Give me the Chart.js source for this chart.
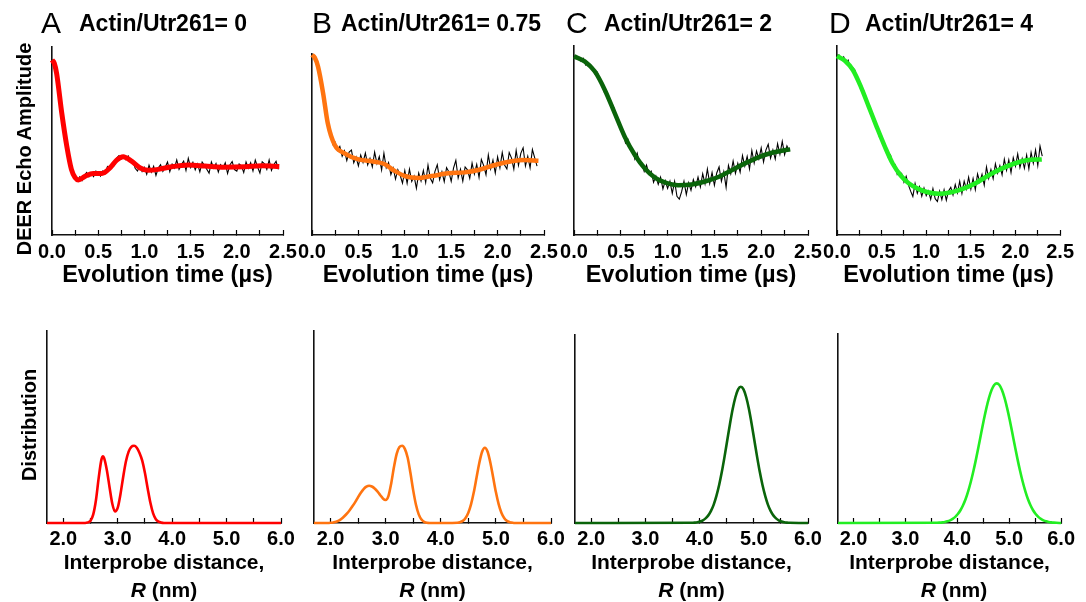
<!DOCTYPE html>
<html>
<head>
<meta charset="utf-8">
<script src="https://cdn.jsdelivr.net/npm/chart.js@4.4.1/dist/chart.umd.min.js"></script>
<style>
html,body{margin:0;padding:0;background:#fff;}
#wrap{position:relative;width:1086px;height:602px;overflow:hidden;background:#fff;font-family:"Liberation Sans",Arial,sans-serif;}
canvas{position:absolute;left:0;top:0;}
.lbl{position:absolute;white-space:nowrap;color:#000;}
.letter{font-size:30px;font-weight:400;line-height:30px;}
.ttl{font-size:23px;font-weight:700;line-height:23px;}
.vlab{font-size:20px;font-weight:700;line-height:24px;width:300px;height:24px;text-align:center;transform:rotate(-90deg);}
.rlab{font-size:21px;font-weight:700;line-height:22px;width:140px;text-align:center;}
</style>
</head>
<body>
<div id="wrap">
<canvas id="cA" width="1086" height="602"></canvas>
<canvas id="cB" width="1086" height="602"></canvas>
<canvas id="cC" width="1086" height="602"></canvas>
<canvas id="cD" width="1086" height="602"></canvas>
<canvas id="dA" width="1086" height="602"></canvas>
<canvas id="dB" width="1086" height="602"></canvas>
<canvas id="dC" width="1086" height="602"></canvas>
<canvas id="dD" width="1086" height="602"></canvas>

<div class="lbl letter" style="left:41px;top:8px;">A</div>
<div class="lbl ttl" style="left:79px;top:12px;">Actin/Utr261= 0</div>
<div class="lbl letter" style="left:312px;top:8px;">B</div>
<div class="lbl ttl" style="left:341px;top:12px;">Actin/Utr261= 0.75</div>
<div class="lbl letter" style="left:566px;top:8px;">C</div>
<div class="lbl ttl" style="left:604px;top:12px;">Actin/Utr261= 2</div>
<div class="lbl letter" style="left:829px;top:8px;">D</div>
<div class="lbl ttl" style="left:865px;top:12px;">Actin/Utr261= 4</div>

<div class="lbl vlab" style="left:-126.5px;top:137px;">DEER Echo Amplitude</div>
<div class="lbl vlab" style="left:-121px;top:413px;">Distribution</div>

<div class="lbl rlab" style="left:94px;top:579px;"><i>R</i> (nm)</div>
<div class="lbl rlab" style="left:362.5px;top:579px;"><i>R</i> (nm)</div>
<div class="lbl rlab" style="left:621.5px;top:579px;"><i>R</i> (nm)</div>
<div class="lbl rlab" style="left:884px;top:579px;"><i>R</i> (nm)</div>
</div>

<script>
// ---------------- DATA ----------------
// tick values / labels
const timeTicks = [0, 0.25, 0.5, 0.75, 1, 1.25, 1.5, 1.75, 2, 2.25, 2.5];
const timeTickLabels = ['0.0', '', '0.5', '', '1.0', '', '1.5', '', '2.0', '', '2.5'];
const distTicks = [2, 2.5, 3, 3.5, 4, 4.5, 5, 5.5, 6];
const distTickLabels = ['2.0', '', '3.0', '', '4.0', '', '5.0', '', '6.0'];

// sampling interval of the raw DEER traces (µs)
const traceStep = 0.025;

// raw DEER traces (black), one value per sample
const traceA = [0.934,0.908,0.864,0.757,0.672,0.586,0.508,0.428,0.374,0.327,0.310,0.289,0.309,0.289,0.317,0.332,0.310,0.329,0.311,0.340,
0.332,0.313,0.340,0.327,0.364,0.350,0.374,0.369,0.409,0.422,0.405,0.421,0.400,0.420,0.388,0.396,0.355,0.340,0.367,0.338,
0.360,0.323,0.371,0.334,0.365,0.317,0.356,0.374,0.338,0.361,0.388,0.337,0.377,0.356,0.399,0.349,0.375,0.393,0.343,0.408,
0.359,0.387,0.347,0.378,0.336,0.388,0.371,0.350,0.329,0.389,0.356,0.380,0.335,0.374,0.357,0.384,0.327,0.372,0.391,0.348,
0.340,0.378,0.368,0.332,0.388,0.355,0.385,0.341,0.398,0.362,0.330,0.390,0.379,0.349,0.399,0.343,0.373,0.392,0.349];
const traceB = [1.000,0.975,0.963,0.893,0.854,0.747,0.696,0.585,0.567,0.500,0.512,0.468,0.489,0.435,0.465,0.411,0.458,0.469,0.399,0.431,
0.382,0.441,0.401,0.453,0.387,0.423,0.376,0.458,0.394,0.433,0.359,0.452,0.371,0.400,0.334,0.370,0.309,0.361,0.330,0.286,
0.356,0.286,0.364,0.296,0.325,0.258,0.342,0.298,0.357,0.290,0.386,0.313,0.288,0.352,0.388,0.306,0.350,0.295,0.372,0.349,
0.297,0.370,0.412,0.315,0.363,0.298,0.376,0.360,0.313,0.397,0.337,0.390,0.318,0.417,0.383,0.333,0.442,0.365,0.414,0.342,
0.432,0.371,0.456,0.387,0.365,0.456,0.425,0.364,0.467,0.385,0.451,0.482,0.381,0.435,0.371,0.472,0.426,0.380];
const traceC = [0.947,0.935,0.943,0.919,0.934,0.899,0.911,0.883,0.888,0.852,0.861,0.814,0.809,0.754,0.752,0.730,0.675,0.675,0.619,0.613,
0.554,0.550,0.487,0.507,0.456,0.457,0.401,0.433,0.376,0.381,0.336,0.370,0.323,0.338,0.279,0.312,0.268,0.306,0.244,0.287,
0.247,0.285,0.220,0.283,0.205,0.190,0.229,0.284,0.214,0.276,0.236,0.293,0.255,0.306,0.254,0.324,0.270,0.349,0.272,0.330,
0.263,0.328,0.360,0.284,0.335,0.252,0.368,0.324,0.391,0.326,0.379,0.332,0.420,0.365,0.416,0.349,0.447,0.381,0.444,0.402,
0.460,0.386,0.449,0.480,0.406,0.450,0.402,0.483,0.427,0.495,0.425,0.471,0.443];
const traceD = [0.951,0.952,0.927,0.942,0.912,0.925,0.880,0.887,0.873,0.819,0.814,0.768,0.763,0.707,0.694,0.641,0.640,0.591,0.577,0.520,
0.523,0.468,0.460,0.410,0.424,0.367,0.373,0.320,0.335,0.325,0.280,0.311,0.265,0.232,0.204,0.272,0.221,0.255,0.205,0.249,
0.208,0.234,0.189,0.245,0.192,0.177,0.232,0.187,0.239,0.184,0.233,0.252,0.212,0.267,0.223,0.285,0.220,0.285,0.243,0.306,
0.243,0.299,0.240,0.323,0.280,0.321,0.264,0.360,0.299,0.346,0.298,0.376,0.327,0.367,0.318,0.401,0.342,0.397,0.330,0.409,
0.364,0.429,0.357,0.404,0.353,0.423,0.350,0.437,0.380,0.449,0.368,0.470,0.417];

// fitted DEER curves (coloured)
const fitA_t = [0, 0.025, 0.05, 0.105, 0.16, 0.21, 0.25, 0.285, 0.357, 0.447, 0.54, 0.63, 0.70, 0.77, 0.86, 0.95, 1.04, 1.15, 1.295, 1.475, 1.655, 1.84, 2.09, 2.27, 2.46];
const fitA_v = [0.931, 0.913, 0.86, 0.651, 0.473, 0.349, 0.305, 0.293, 0.312, 0.327, 0.327, 0.358, 0.398, 0.416, 0.393, 0.358, 0.344, 0.349, 0.363, 0.372, 0.367, 0.361, 0.363, 0.368, 0.365];
const fitB_t = [0, 0.03, 0.065, 0.12, 0.17, 0.245, 0.35, 0.50, 0.675, 0.78, 0.89, 1.0, 1.145, 1.29, 1.47, 1.645, 1.79, 1.97, 2.15, 2.29, 2.44];
const fitB_v = [0.995, 0.98, 0.93, 0.783, 0.617, 0.497, 0.451, 0.418, 0.405, 0.392, 0.354, 0.326, 0.315, 0.326, 0.341, 0.346, 0.359, 0.387, 0.407, 0.414, 0.41];
const fitC_t = [0, 0.114, 0.221, 0.328, 0.435, 0.542, 0.65, 0.757, 0.864, 0.971, 1.113, 1.256, 1.399, 1.542, 1.685, 1.827, 1.97, 2.113, 2.22, 2.31];
const fitC_v = [0.945, 0.919, 0.866, 0.769, 0.645, 0.52, 0.423, 0.352, 0.304, 0.278, 0.263, 0.267, 0.283, 0.307, 0.343, 0.379, 0.411, 0.435, 0.446, 0.453];
const fitD_t = [0, 0.089, 0.178, 0.268, 0.357, 0.446, 0.535, 0.625, 0.714, 0.803, 0.91, 1.017, 1.142, 1.267, 1.41, 1.553, 1.695, 1.838, 1.981, 2.124, 2.295];
const fitD_v = [0.947, 0.922, 0.873, 0.784, 0.678, 0.571, 0.469, 0.377, 0.315, 0.274, 0.244, 0.226, 0.218, 0.225, 0.244, 0.274, 0.315, 0.35, 0.377, 0.395, 0.40];

// distance distributions
const distA_R = [1.7, 2.4, 2.45, 2.5, 2.55, 2.6, 2.65, 2.7, 2.73, 2.75, 2.8, 2.85, 2.9, 2.95, 3.0, 3.05, 3.1, 3.15, 3.2, 3.25, 3.3, 3.35, 3.4, 3.45, 3.5, 3.55, 3.6, 3.65, 3.7, 3.75, 3.8, 3.85, 6.0];
const distA_P = [0, 0, 0.003, 0.012, 0.045, 0.12, 0.235, 0.33, 0.347, 0.338, 0.275, 0.185, 0.1, 0.06, 0.08, 0.15, 0.24, 0.32, 0.372, 0.397, 0.402, 0.392, 0.365, 0.325, 0.26, 0.18, 0.105, 0.05, 0.02, 0.007, 0.002, 0, 0];
const distB_R = [1.7, 1.95, 2.0, 2.05, 2.1, 2.15, 2.2, 2.25, 2.3, 2.35, 2.4, 2.45, 2.5, 2.55, 2.6, 2.65, 2.7, 2.75, 2.8, 2.85, 2.9, 2.95, 3.0, 3.05, 3.1, 3.15, 3.2, 3.25, 3.3, 3.35, 3.4, 3.45, 3.5, 3.55, 3.6, 3.65, 3.7, 3.75, 3.8,
  4.3, 4.35, 4.4, 4.45, 4.5, 4.55, 4.6, 4.65, 4.7, 4.75, 4.8, 4.85, 4.9, 4.95, 5.0, 5.05, 5.1, 5.15, 5.2, 5.25, 5.3, 5.35, 6.0];
const distB_P = [0, 0, 0.001, 0.003, 0.006, 0.012, 0.022, 0.035, 0.05, 0.068, 0.088, 0.11, 0.135, 0.158, 0.177, 0.189, 0.194, 0.19, 0.18, 0.165, 0.146, 0.128, 0.12, 0.14, 0.205, 0.29, 0.36, 0.396, 0.402, 0.385, 0.34, 0.26, 0.17, 0.095, 0.045, 0.018, 0.006, 0.001, 0,
  0.0015, 0.0044, 0.011, 0.026, 0.053, 0.098, 0.161, 0.238, 0.314, 0.371, 0.392, 0.371, 0.314, 0.238, 0.161, 0.098, 0.053, 0.026, 0.011, 0.0044, 0.0015, 0, 0];
const distC_R = [1.7, 3.86, 3.91, 3.96, 4.01, 4.06, 4.11, 4.16, 4.21, 4.26, 4.31, 4.36, 4.41, 4.46, 4.51, 4.56, 4.61, 4.66, 4.71, 4.76, 4.81, 4.86, 4.91, 4.96, 5.01, 5.06, 5.11, 5.16, 5.21, 5.26, 5.31, 5.36, 5.41, 5.46, 5.51, 5.56, 5.61, 5.66, 6.0];
const distC_P = [0, 0.001, 0.0022, 0.0043, 0.008, 0.0144, 0.0247, 0.0406, 0.0645, 0.098, 0.144, 0.202, 0.272, 0.353, 0.44, 0.527, 0.606, 0.669, 0.711, 0.725, 0.711, 0.669, 0.606, 0.527, 0.44, 0.353, 0.272, 0.202, 0.144, 0.098, 0.0645, 0.0406, 0.0247, 0.0144, 0.008, 0.0043, 0.0022, 0.001, 0];
const distD_R = [1.7, 3.61, 3.66, 3.71, 3.76, 3.81, 3.86, 3.91, 3.96, 4.01, 4.06, 4.11, 4.16, 4.21, 4.26, 4.31, 4.36, 4.41, 4.46, 4.51, 4.56, 4.61, 4.66, 4.71, 4.76, 4.81, 4.86, 4.91, 4.96, 5.01, 5.06, 5.11, 5.16, 5.21, 5.26, 5.31, 5.36, 5.41, 5.46, 5.51, 5.56, 5.61, 5.66, 5.71, 5.76, 5.81, 5.86, 5.91, 6.0];
const distD_P = [0, 0.0011, 0.002, 0.0034, 0.0056, 0.009, 0.0142, 0.0217, 0.0325, 0.0474, 0.0675, 0.094, 0.127, 0.169, 0.218, 0.275, 0.338, 0.406, 0.476, 0.545, 0.608, 0.662, 0.704, 0.730, 0.739, 0.730, 0.704, 0.662, 0.608, 0.545, 0.476, 0.406, 0.338, 0.275, 0.218, 0.169, 0.127, 0.094, 0.0675, 0.0474, 0.0325, 0.0217, 0.0142, 0.009, 0.0056, 0.0034, 0.002, 0.0011, 0];

// ---------------- STYLE / LAYOUT ----------------
const PAGE_W = 1086;
const colors = { A: '#ff0000', B: '#ff7410', C: '#0a640a', D: '#22ee22' };
Chart.defaults.font.family = '"Liberation Sans", Arial, sans-serif';
Chart.defaults.color = '#000';

const topRow = { padBottom: 314.3, xHeight: 52.7, tickPad: 12, title: 'Evolution time (\u00b5s)', titleSize: 23.5, min: 0, max: 2.5, ticks: timeTicks, labels: timeTickLabels };
const botRow = { padBottom: 28.5, xHeight: 50.5, tickPad: 11, title: 'Interprobe distance,', titleSize: 21, min: 1.7, max: 6.0, ticks: distTicks, labels: distTickLabels };

function zip(xs, ys) { return xs.map((x, i) => ({ x: x, y: ys[i] })); }
function traceData(vals) { return vals.map((v, i) => ({ x: Math.round(i * traceStep * 1000) / 1000, y: v })); }

function makePanel(id, area, row, datasets) {
  return new Chart(document.getElementById(id), {
    type: 'line',
    data: { datasets: datasets },
    options: {
      responsive: false,
      animation: false,
      devicePixelRatio: 1,
      events: [],
      layout: { autoPadding: false, padding: { left: area.left, right: PAGE_W - area.right, top: area.top, bottom: row.padBottom } },
      plugins: { legend: { display: false }, tooltip: { enabled: false }, title: { display: false } },
      elements: { point: { radius: 0 } },
      scales: {
        x: {
          type: 'linear', min: row.min, max: row.max,
          afterFit: s => { s.height = row.xHeight; },
          afterBuildTicks: s => { s.ticks = row.ticks.map(v => ({ value: v })); },
          ticks: {
            autoSkip: false, maxRotation: 0, minRotation: 0, padding: row.tickPad, color: '#000',
            font: { size: 20, weight: 'bold', lineHeight: 1 },
            callback: (v, i) => row.labels[i]
          },
          grid: { display: true, drawOnChartArea: false, drawTicks: true, tickLength: -5, tickColor: '#000', tickWidth: 1.2 },
          border: { display: true, color: '#111', width: 1.6 },
          title: { display: true, text: row.title, color: '#000', font: { size: row.titleSize, weight: 'bold', lineHeight: 1 }, padding: 0 }
        },
        y: {
          type: 'linear', min: 0, max: 1,
          afterFit: s => { s.width = 0; },
          ticks: { display: false },
          grid: { display: true, drawOnChartArea: false, drawTicks: false },
          border: { display: true, color: '#111', width: 1.6 }
        }
      }
    }
  });
}

function deerSets(fitT, fitV, trace, color, w) {
  return [
    { data: zip(fitT, fitV), borderColor: color, borderWidth: w, cubicInterpolationMode: 'monotone', pointRadius: 0, clip: false, order: 0 },
    { data: traceData(trace), borderColor: '#000', borderWidth: 1.1, tension: 0, pointRadius: 0, clip: false, order: 1 }
  ];
}
function distSet(R, P, color) {
  return [{ data: zip(R, P), borderColor: color, borderWidth: 2.6, cubicInterpolationMode: 'monotone', pointRadius: 0, clip: false }];
}

makePanel('cA', { left: 52, right: 283, top: 47 }, topRow, deerSets(fitA_t, fitA_v, traceA, colors.A, 5));
makePanel('cB', { left: 312, right: 544, top: 54 }, topRow, deerSets(fitB_t, fitB_v, traceB, colors.B, 4.5));
makePanel('cC', { left: 574, right: 808, top: 46 }, topRow, deerSets(fitC_t, fitC_v, traceC, colors.C, 4.5));
makePanel('cD', { left: 837, right: 1071, top: 46 }, topRow, deerSets(fitD_t, fitD_v, traceD, colors.D, 4.5));

makePanel('dA', { left: 47, right: 281, top: 331 }, botRow, distSet(distA_R, distA_P, colors.A));
makePanel('dB', { left: 314, right: 551, top: 331 }, botRow, distSet(distB_R, distB_P, colors.B));
makePanel('dC', { left: 575, right: 808, top: 335 }, botRow, distSet(distC_R, distC_P, colors.C));
makePanel('dD', { left: 838, right: 1070, top: 334 }, botRow, distSet(distD_R, distD_P, colors.D));
</script>
</body>
</html>
